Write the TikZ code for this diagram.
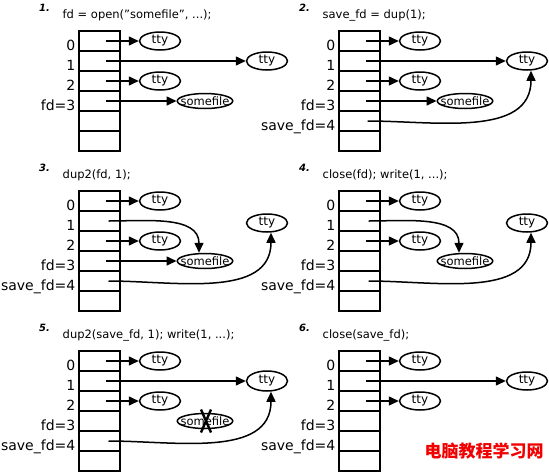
\documentclass[tikz,border=0pt]{standalone}
\usepackage{fontspec}
\setmainfont{DejaVu Sans}
\newfontfamily\cjk{Noto Sans CJK SC}
\usetikzlibrary{arrows.meta,shapes.geometric}
\definecolor{wmred}{RGB}{240,0,0}
\tikzset{
  cell/.style={draw, line width=1.7pt, minimum width=41pt, minimum height=20pt, inner sep=0pt, outer sep=0pt, anchor=north west},
  fdlabel/.style={anchor=base east, font=\fontsize{14}{14}\selectfont, inner sep=0pt},
  file/.style={draw, ellipse, line width=1.5pt, minimum width=41pt, minimum height=18pt, inner sep=0pt, font=\fontsize{12}{12}\selectfont},
  sfile/.style={file, minimum width=55pt, minimum height=15pt, inner xsep=-4.8pt, inner ysep=-1.5pt, font=\fontsize{11.5}{12}\selectfont},
  ptr/.style={-{Triangle[length=10pt,width=9pt]}, line width=1.5pt},
  ptitle/.style={anchor=base west, font=\bfseries\itshape\fontsize{10}{10}\selectfont, inner sep=0pt},
  pcode/.style={anchor=base west, font=\fontsize{11.5}{12}\selectfont, inner sep=0pt},
}
\newcommand\fdpanel[5]{%
  \foreach \i in {0,...,5} {\node[cell] (c#1\i) at (#2,#3+20*\i) {};}
  \node[ptitle] (n#1) at (#2-40,#3-20) {#4};
  \node[pcode] (k#1) at (#2-16.5,#3-12.5) {#5};
  \node[fdlabel] (l#1a) at ([xshift=-3.5pt,yshift=1pt]c#10.south west) {0};
  \node[fdlabel] (l#1b) at ([xshift=-3.5pt,yshift=1pt]c#11.south west) {1};
  \node[fdlabel] (l#1c) at ([xshift=-3.5pt,yshift=1pt]c#12.south west) {2};
  \node[fdlabel] (l#1d) at ([xshift=-3.5pt,yshift=1pt]c#13.south west) {fd=3};
}
\newcommand\savelabel[1]{%
  \node[fdlabel] (l#1e) at ([xshift=-3.5pt,yshift=1pt]c#14.south west) {save\_fd=4};
}
\begin{document}
\begin{tikzpicture}[x=1pt,y=-1pt]
\useasboundingbox (0,0) rectangle (549,472);

% ---------- panel 1
\fdpanel{1}{79}{31}{1.}{fd = open("somefile", ...);}
\node[file] (a1) at (160,41) {tty};
\node[file] (b1) at (160,81) {tty};
\node[file] (r1) at (267,61) {tty};
\node[sfile] (s1) at (205,101) {somefile};
\draw[ptr] ([xshift=6.5pt]c10.center) -- (a1);
\draw[ptr] ([xshift=6.5pt]c11.center) -- (r1);
\draw[ptr] ([xshift=6.5pt]c12.center) -- (b1);
\draw[ptr] ([xshift=6.5pt]c13.center) -- (s1);

% ---------- panel 2
\fdpanel{2}{339}{31}{2.}{save\_fd = dup(1);}
\savelabel{2}
\node[file] (a2) at (420,41) {tty};
\node[file] (b2) at (420,81) {tty};
\node[file] (r2) at (527,61) {tty};
\node[sfile] (s2) at (465,101) {somefile};
\draw[ptr] ([xshift=6.5pt]c20.center) -- (a2);
\draw[ptr] ([xshift=6.5pt]c21.center) -- (r2);
\draw[ptr] ([xshift=6.5pt]c22.center) -- (b2);
\draw[ptr] ([xshift=6.5pt]c23.center) -- (s2);
\draw[ptr] ([xshift=8pt]c24.center) to[out=0,in=-90] ([xshift=4pt]r2.south);

% ---------- panel 3
\fdpanel{3}{79}{191}{3.}{dup2(fd, 1);}
\savelabel{3}
\node[file] (a3) at (160,201) {tty};
\node[file] (b3) at (160,241) {tty};
\node[file] (r3) at (267,223) {tty};
\node[sfile] (s3) at (205,261) {somefile};
\draw[ptr] ([xshift=6.5pt]c30.center) -- (a3);
\draw[ptr] ([xshift=9pt]c31.center) to[out=0,in=90] ([xshift=-6pt]s3.north);
\draw[ptr] ([xshift=6.5pt]c32.center) -- (b3);
\draw[ptr] ([xshift=6.5pt]c33.center) -- (s3);
\draw[ptr] ([xshift=9pt]c34.center) to[out=0,in=-90] ([xshift=4pt]r3.south);

% ---------- panel 4
\fdpanel{4}{339}{191}{4.}{close(fd); write(1, ...);}
\savelabel{4}
\node[file] (a4) at (420,201) {tty};
\node[file] (b4) at (420,241) {tty};
\node[file] (r4) at (527,223) {tty};
\node[sfile] (s4) at (465,261) {somefile};
\draw[ptr] ([xshift=6.5pt]c40.center) -- (a4);
\draw[ptr] ([xshift=9pt]c41.center) to[out=0,in=90] ([xshift=-6pt]s4.north);
\draw[ptr] ([xshift=6.5pt]c42.center) -- (b4);
\draw[ptr] ([xshift=9pt]c44.center) to[out=0,in=-90] ([xshift=4pt]r4.south);

% ---------- panel 5
\fdpanel{5}{79}{351}{5.}{dup2(save\_fd, 1); write(1, ...);}
\savelabel{5}
\node[file] (a5) at (160,361) {tty};
\node[file] (b5) at (160,401) {tty};
\node[file, minimum height=20pt] (r5) at (267,381) {tty};
\node[sfile] (s5) at (205,421) {somefile};
\draw[ptr] ([xshift=6.5pt]c50.center) -- (a5);
\draw[ptr] ([xshift=6.5pt]c51.center) -- (r5);
\draw[ptr] ([xshift=6.5pt]c52.center) -- (b5);
\draw[ptr] ([xshift=9pt]c54.center) to[out=0,in=-90] ([xshift=4pt]r5.south);
\draw[line width=2.4pt] ([shift={(-4pt,11.5pt)}]s5.center) -- ([shift={(6pt,-11.5pt)}]s5.center);
\draw[line width=2.4pt] ([shift={(6pt,11.5pt)}]s5.center) -- ([shift={(-4pt,-11.5pt)}]s5.center);

% ---------- panel 6
\fdpanel{6}{339}{351}{6.}{close(save\_fd);}
\savelabel{6}
\node[file] (a6) at (420,361) {tty};
\node[file] (b6) at (420,401) {tty};
\node[file] (r6) at (527,381) {tty};
\draw[ptr] ([xshift=6.5pt]c60.center) -- (a6);
\draw[ptr] ([xshift=6.5pt]c61.center) -- (r6);
\draw[ptr] ([xshift=6.5pt]c62.center) -- (b6);

% ---------- watermark
\node[font=\cjk\bfseries\fontsize{17}{17}\selectfont, text=wmred, inner sep=0pt] (wm) at (484,451) {电脑教程学习网};
\end{tikzpicture}
\end{document}
